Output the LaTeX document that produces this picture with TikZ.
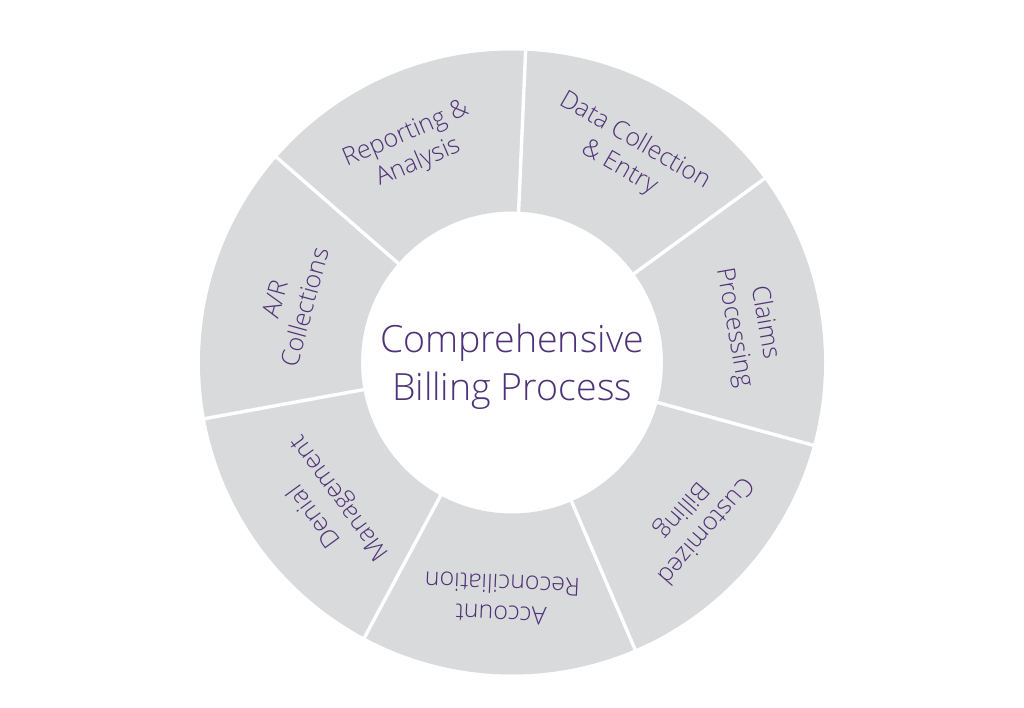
\documentclass[tikz,border=0pt]{standalone}
\usepackage{fontspec}
\setmainfont{Open Sans Light}
\usetikzlibrary{calc}
\definecolor{ringgray}{HTML}{D9DADC}
\definecolor{txtpurple}{HTML}{4E3277}
\begin{document}
\begin{tikzpicture}[x=1pt,y=1pt,
  seglabel/.style={text=txtpurple, align=center, font=\fontsize{25}{31}\selectfont, inner sep=0pt},
  centerlabel/.style={text=txtpurple, align=center, font=\fontsize{37.5}{48}\selectfont, inner sep=0pt},
  divider/.style={draw=white, line width=3.4pt}]
\useasboundingbox (0,0) rectangle (1024,707);
\fill[white] (0,0) rectangle (1024,707);
\coordinate (c) at (512,344.5);
% ring
\fill[ringgray, even odd rule] (c) circle[radius=312] (c) circle[radius=151];
% dividers
\foreach \i in {0,...,6}{
  \pgfmathsetmacro{\ang}{87.5-\i*360/7}
  \coordinate (din\i) at ($(c)+(\ang:149)$);
  \coordinate (dout\i) at ($(c)+(\ang:316)$);
  \draw[divider] (din\i) -- (dout\i);
}
% labels
\node[seglabel, rotate=-30] (l1) at ($(c)+(61:238)$) {Data Collection\\\& Entry};
\node[seglabel, rotate=-80] (l2) at ($(c)+(9:240)$) {Claims\\Processing};
\node[seglabel, rotate=-131] (l3) at ($(c)+(-41:240)$) {Customized\\Billing};
\node[seglabel, rotate=-182.5] (l4) at ($(c)+(-92.5:237)$) {Account\\Reconciliation};
\node[seglabel, rotate=126] (l5) at ($(c)+(-142:234)$) {Denial\\Management};
\node[seglabel, rotate=74.6] (l6) at ($(c)+(165:230)$) {A/R\\Collections};
\node[seglabel, rotate=23.2] (l7) at ($(c)+(115:236)$) {Reporting \&\\Analysis};
\node[centerlabel] (ctr) at ($(c)+(0,-4)$) {Comprehensive\\Billing Process};
\end{tikzpicture}
\end{document}
